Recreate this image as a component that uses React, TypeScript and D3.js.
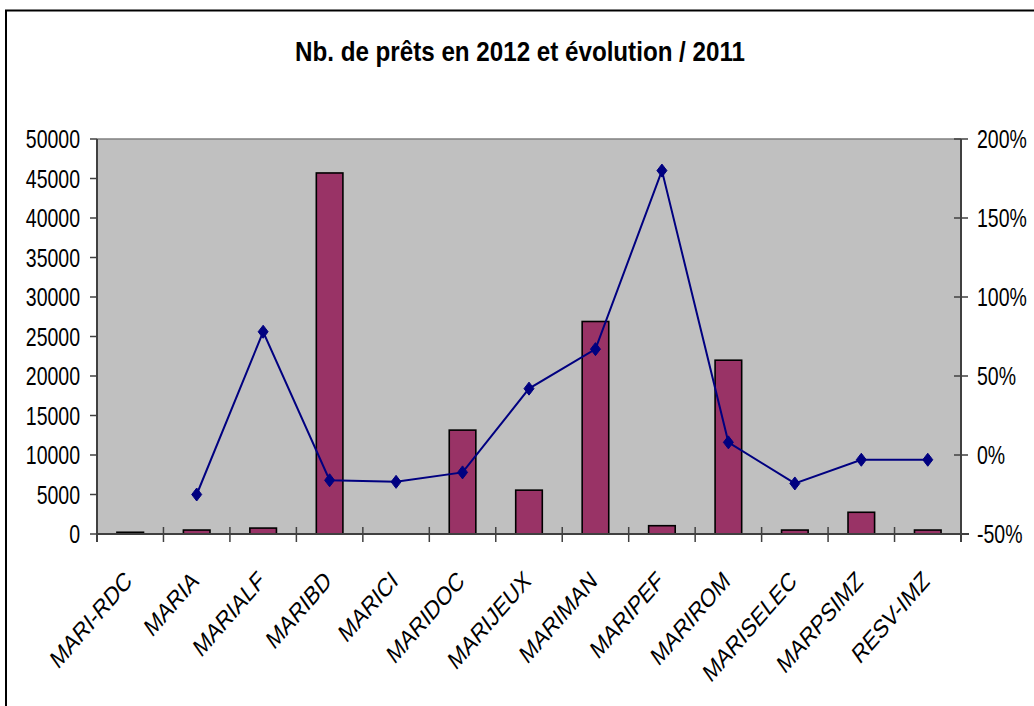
import React from 'react';
import * as d3 from 'd3';

const categories = ['MARI-RDC', 'MARIA', 'MARIALF', 'MARIBD', 'MARICI', 'MARIDOC', 'MARIJEUX', 'MARIMAN', 'MARIPEF', 'MARIROM', 'MARISELEC', 'MARPSIMZ', 'RESV-IMZ'];
const loans2012 = [220, 500, 750, 45700, 0, 13150, 5550, 26900, 1050, 22000, 500, 2750, 500];
const evolution: (number | null)[] = [null, -25, 78, -16, -17, -11, 42, 67, 180, 8, -18, -3, -3];
const leftTicks = [0, 5000, 10000, 15000, 20000, 25000, 30000, 35000, 40000, 45000, 50000];
const rightTicks = [-50, 0, 50, 100, 150, 200];
const title = 'Nb. de prêts en 2012 et évolution / 2011';

const W = 1034;
const H = 706;
const PL = 97, PR = 961, PT = 139, PB = 534;
const FONT = '"Liberation Sans", Arial, sans-serif';

export default function App() {
  const x = d3.scaleBand<string>().domain(categories).range([PL, PR]).paddingInner(0.6).paddingOuter(0.3);
  const step = x.step();
  const yL = d3.scaleLinear().domain([0, 50000]).range([PB, PT]);
  const yR = d3.scaleLinear().domain([-50, 200]).range([PB, PT]);
  const cx = (c: string) => (x(c) as number) + x.bandwidth() / 2;

  const pts = categories
    .map((c, i) => ({ c, v: evolution[i] }))
    .filter((d) => d.v !== null) as { c: string; v: number }[];
  const line = d3.line<{ c: string; v: number }>().x((d) => cx(d.c)).y((d) => yR(d.v));

  const boundaries = categories.map((_, i) => PL + i * step).concat([PR]);

  return (
    <svg width={W} height={H} style={{ position: 'absolute', left: 0, top: 0, background: '#fff' }} fontFamily={FONT}>
      <rect x={6} y={10.5} width={W + 20} height={H + 20} fill="#fff" stroke="#000" strokeWidth={2} />
      <text x={520} y={61} textAnchor="middle" fontSize={27} fontWeight="bold" textLength={450} lengthAdjust="spacingAndGlyphs" fill="#000">
        {title}
      </text>
      {/* plot area */}
      <rect x={PL} y={PT} width={PR - PL} height={PB - PT} fill="#C0C0C0" />
      <line x1={PL} x2={PR} y1={PT} y2={PT} stroke="#808080" strokeWidth={1.5} />
      {/* bars */}
      {categories.map((c, i) =>
        loans2012[i] > 0 ? (
          <rect key={c} x={x(c)} y={yL(loans2012[i])} width={x.bandwidth()} height={PB - yL(loans2012[i])}
            fill="#993366" stroke="#000" strokeWidth={1.6} />
        ) : null
      )}
      {/* axes */}
      <line x1={PL} x2={PL} y1={PT} y2={PB + 8} stroke="#404040" strokeWidth={2} />
      <line x1={PR} x2={PR} y1={PT} y2={PB + 8} stroke="#404040" strokeWidth={2} />
      <line x1={PL} x2={PR + 8} y1={PB} y2={PB} stroke="#404040" strokeWidth={2} />
      {leftTicks.map((t) => (
        <g key={'l' + t}>
          <line x1={PL - 7} x2={PL} y1={yL(t)} y2={yL(t)} stroke="#404040" strokeWidth={1.5} />
          <text transform={`translate(80,${yL(t) + 9}) scale(0.78,1)`} textAnchor="end" fontSize={25} fill="#000">{t}</text>
        </g>
      ))}
      {rightTicks.map((t) => (
        <g key={'r' + t}>
          <line x1={PR - 7} x2={PR + 7} y1={yR(t)} y2={yR(t)} stroke="#404040" strokeWidth={1.5} />
          <text transform={`translate(977,${yR(t) + 9}) scale(0.78,1)`} textAnchor="start" fontSize={25} fill="#000">{t + '%'}</text>
        </g>
      ))}
      {boundaries.map((b, i) => (
        <line key={'b' + i} x1={b} x2={b} y1={PB - 7} y2={PB + 8} stroke="#404040" strokeWidth={1.5} />
      ))}
      {categories.map((c) => (
        <text key={'t' + c} transform={`translate(${cx(c) + 3},583) scale(0.78,1) rotate(-42)`} textAnchor="end" fontSize={26} fill="#000">
          {c}
        </text>
      ))}
      {/* line series */}
      <path d={line(pts) as string} fill="none" stroke="#000080" strokeWidth={2} />
      {pts.map((d) => {
        const px = cx(d.c), py = yR(d.v);
        return <path key={'m' + d.c} d={`M${px},${py - 6.5}L${px + 5},${py}L${px},${py + 6.5}L${px - 5},${py}Z`} fill="#000080" stroke="#000080" strokeWidth={1} />;
      })}
    </svg>
  );
}
